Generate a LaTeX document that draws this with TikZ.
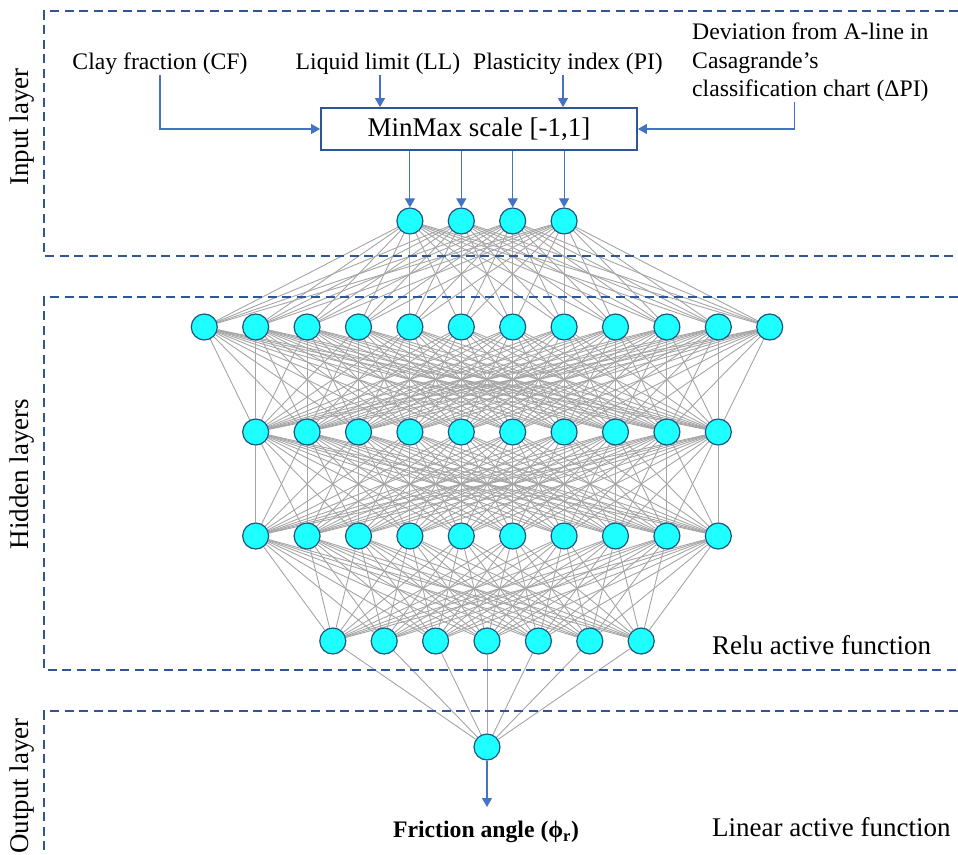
\documentclass[tikz,border=0pt]{standalone}
\usepackage{fontspec}
\setmainfont{Liberation Serif}
\usetikzlibrary{arrows.meta}
\pgfdeclarelayer{bg}
\pgfsetlayers{bg,main}
\definecolor{nfill}{RGB}{30,255,255}
\definecolor{ndraw}{RGB}{30,85,130}
\definecolor{arrblue}{RGB}{68,114,196}
\definecolor{dashblue}{RGB}{47,85,151}
\definecolor{edgegray}{RGB}{165,165,165}
\newcommand{\ftxt}{\fontsize{23.7}{28.5}\selectfont}
\newcommand{\fbig}{\fontsize{27}{32}\selectfont}
\begin{document}
\begin{tikzpicture}[x=1pt,y=-1pt,
  neuron/.style={circle,draw=ndraw,line width=1.2pt,fill=nfill,minimum size=26pt,inner sep=0pt},
  edge/.style={draw=edgegray,line width=0.9pt},
  arr/.style={draw=arrblue,line width=1.1pt,-{Triangle[width=10pt,length=9pt]}},
  layerbox/.style={draw=dashblue,line width=1.8pt,dash pattern=on 9pt off 5.5pt},
  txt/.style={font=\ftxt,inner sep=1pt},
  big/.style={font=\fbig,inner sep=0pt}]
\useasboundingbox (0,0) rectangle (958,854);
% dashed layer boxes
\draw[layerbox] (958,11) -- (44,11) -- (44,256) -- (958,256);
\draw[layerbox] (958,297) -- (44,297) -- (44,670) -- (958,670);
\draw[layerbox] (958,711) -- (44,711) -- (44,856);
% side labels
\node[big,rotate=90] (il) at (22,127) {Input layer};
\node[big,rotate=90] (hl) at (22,474) {Hidden layers};
\node[big,rotate=90] (ol) at (22,786) {Output layer};
\node[big,anchor=base west] (relu) at (712,654) {Relu active function};
\node[big,anchor=base west] (lin) at (712,836) {Linear active function};
% inputs
\node[txt,anchor=base] (cf) at (160,69) {Clay fraction (CF)};
\node[txt,anchor=base] (ll) at (378,69) {Liquid limit (LL)};
\node[txt,anchor=base] (pi) at (568,69) {Plasticity index (PI)};
\node[txt,anchor=north west,align=left,inner sep=0pt] (dev) at (692,23)
  {Deviation from A-line in\\Casagrande’s\\classification chart (ΔPI)};
\node[draw=dashblue,line width=1.8pt,minimum width=316pt,minimum height=42pt,font=\fbig,inner sep=0pt]
  (mm) at (479,129) {MinMax scale [-1,1]};
\draw[arr] (cf.south) |- (mm.west);
\draw[arr] ([xshift=2pt]ll.south) -- ([xshift=2pt]ll.south |- mm.north);
\draw[arr] ([xshift=-5pt]pi.south) -- ([xshift=-5pt]pi.south |- mm.north);
\draw[arr] ([xshift=-16pt]dev.south) |- (mm.east);
% neurons
\foreach \i in {1,...,4} \node[neuron] (in-\i) at ({487+(\i-2.5)*51.4},221) {};
\foreach \i in {1,...,12} \node[neuron] (ha-\i) at ({487+(\i-6.5)*51.4},327) {};
\foreach \i in {1,...,10} \node[neuron] (hb-\i) at ({487+(\i-5.5)*51.4},432) {};
\foreach \i in {1,...,10} \node[neuron] (hc-\i) at ({487+(\i-5.5)*51.4},536) {};
\foreach \i in {1,...,7} \node[neuron] (hd-\i) at ({487+(\i-4)*51.4},641) {};
\node[neuron] (out) at (487,747) {};
\foreach \i in {1,...,4} \draw[arr] (mm.south -| in-\i) -- (in-\i.north);
% output
\node[txt,font=\ftxt\bfseries,anchor=north,inner sep=0pt] (fa) at (486,821) {Friction angle (ϕ\textsubscript{r})};
\coordinate (faend) at (487,807);
\draw[arr] (out.south) -- (faend);
% edges
\begin{pgfonlayer}{bg}
\foreach \a in {1,...,4} \foreach \b in {1,...,12} \draw[edge] (in-\a) -- (ha-\b);
\foreach \a in {1,...,12} \foreach \b in {1,...,10} \draw[edge] (ha-\a) -- (hb-\b);
\foreach \a in {1,...,10} \foreach \b in {1,...,10} \draw[edge] (hb-\a) -- (hc-\b);
\foreach \a in {1,...,10} \foreach \b in {1,...,7} \draw[edge] (hc-\a) -- (hd-\b);
\foreach \a in {1,...,7} \draw[edge] (hd-\a) -- (out);
\end{pgfonlayer}
\end{tikzpicture}
\end{document}
